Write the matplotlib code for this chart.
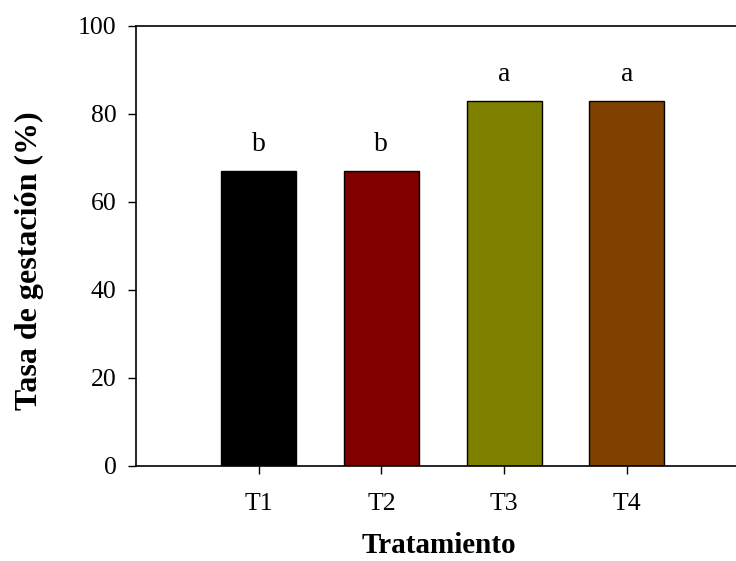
import matplotlib.pyplot as plt

tratamientos = ['T1', 'T2', 'T3', 'T4']
tasa = [67, 67, 83, 83]
letras = ['b', 'b', 'a', 'a']
colores = ['#000000', '#800000', '#808000', '#804000']

plt.rcParams['font.family'] = ['Liberation Serif', 'DejaVu Serif']

fig = plt.figure(figsize=(7.36, 5.61), dpi=100)
ax = fig.add_axes([0.1848, 0.170, 0.8152, 0.784])

pos = [1, 2, 3, 4]
ax.bar(pos, tasa, width=0.61, color=colores, edgecolor='black', linewidth=1.0)

# letras de significancia sobre cada barra
for x, v, l in zip(pos, tasa, letras):
    ax.text(x, v + 4.5, l, ha='center', va='baseline', fontsize=20)

ax.set_xlim(0, 4.89)
ax.set_ylim(0, 100)
ax.set_yticks([0, 20, 40, 60, 80, 100])
ax.set_xticks(pos)
ax.set_xticklabels(tratamientos)
ax.tick_params(direction='out', length=6, width=1, labelsize=18.5, pad=8)
ax.tick_params(axis='x', pad=14)

ax.spines['right'].set_visible(False)
for s in ['left', 'bottom', 'top']:
    ax.spines[s].set_linewidth(1.2)

ax.set_ylabel('Tasa de gestación (%)', fontsize=23, fontweight='bold')
ax.yaxis.set_label_coords(-0.153, 0.465)
ax.set_xlabel('Tratamiento', fontsize=21, fontweight='bold')
ax.xaxis.set_label_coords(0.505, -0.15)

fig.savefig('out.png', dpi=100)
